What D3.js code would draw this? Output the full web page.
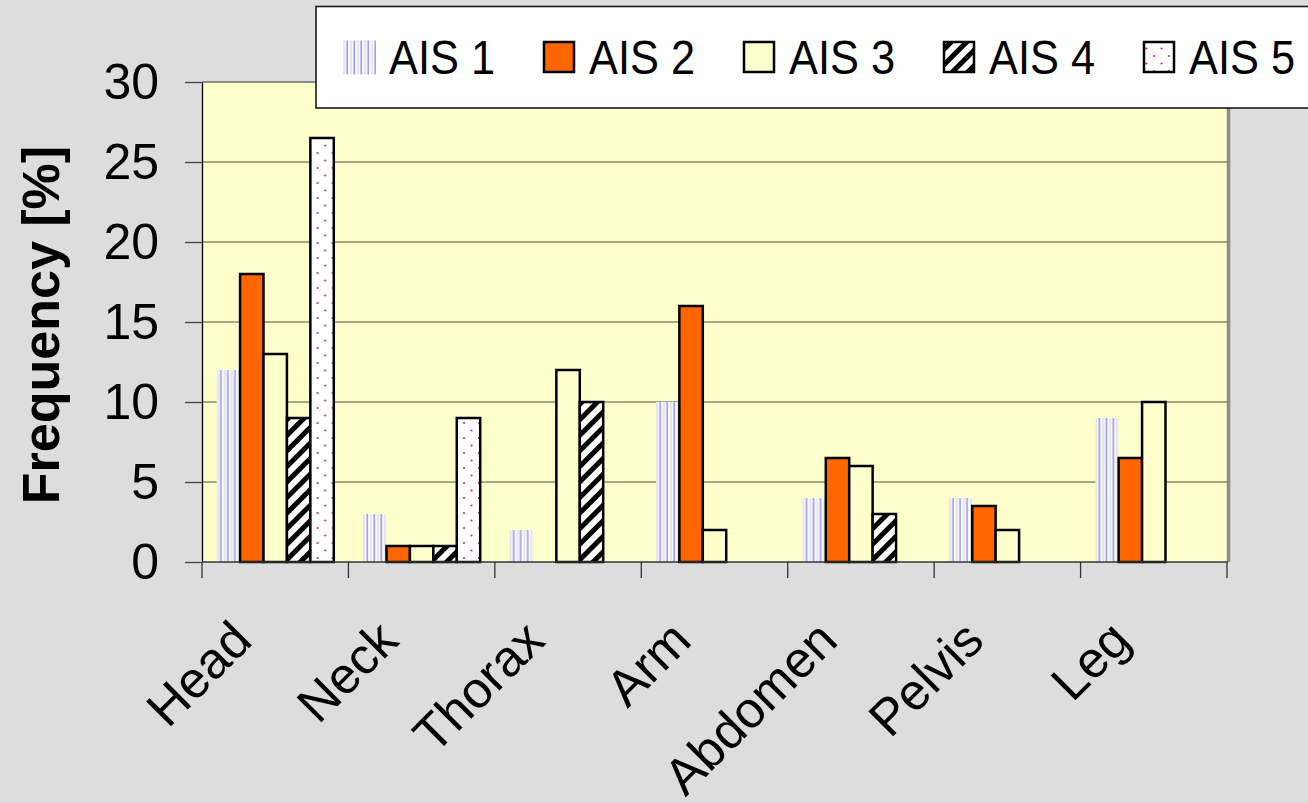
<!DOCTYPE html>
<html>
<head>
<meta charset="utf-8">
<script src="https://cdn.jsdelivr.net/npm/d3@7"></script>
<style>
  html, body { margin: 0; padding: 0; background: #dddddd; }
  svg { display: block; }
  text { font-family: "Liberation Sans", Arial, Helvetica, sans-serif; }
</style>
</head>
<body>
<svg id="chart" width="1308" height="803"></svg>
<script>
// Injury frequency by body region and AIS severity level
const categories = ["Head", "Neck", "Thorax", "Arm", "Abdomen", "Pelvis", "Leg"];
const seriesNames = ["AIS 1", "AIS 2", "AIS 3", "AIS 4", "AIS 5"];
const ais1 = [12, 3, 2, 10, 4, 4, 9];
const ais2 = [18, 1, 0, 16, 6.5, 3.5, 6.5];
const ais3 = [13, 1, 12, 2, 6, 2, 10];
const ais4 = [9, 1, 10, 0, 3, 0, 0];
const ais5 = [26.5, 9, 0, 0, 0, 0, 0];
const yTicks = [0, 5, 10, 15, 20, 25, 30];
const yTitle = "Frequency [%]";

const seriesValues = [ais1, ais2, ais3, ais4, ais5];

const svg = d3.select("#chart");
const plot = { left: 202, top: 82, width: 1025, height: 480 };

// fills for each series
const defs = svg.append("defs");

const pStripe = defs.append("pattern").attr("id", "fill-ais1")
  .attr("patternUnits", "userSpaceOnUse").attr("width", 7).attr("height", 7);
pStripe.append("rect").attr("width", 7).attr("height", 7).attr("fill", "#ffffff");
pStripe.append("rect").attr("x", 0).attr("width", 2.2).attr("height", 7).attr("fill", "#e6e6e6");
pStripe.append("rect").attr("x", 3.4).attr("width", 1.7).attr("height", 7).attr("fill", "#9c9cff");

const pHatch = defs.append("pattern").attr("id", "fill-ais4")
  .attr("patternUnits", "userSpaceOnUse").attr("width", 11).attr("height", 11)
  .attr("patternTransform", "rotate(45)");
pHatch.append("rect").attr("width", 11).attr("height", 11).attr("fill", "#ffffff");
pHatch.append("rect").attr("width", 5).attr("height", 11).attr("fill", "#000000");

const pDots = defs.append("pattern").attr("id", "fill-ais5")
  .attr("patternUnits", "userSpaceOnUse").attr("width", 15).attr("height", 15);
pDots.append("rect").attr("width", 15).attr("height", 15).attr("fill", "#ffffff");
pDots.append("circle").attr("cx", 3.5).attr("cy", 3.5).attr("r", 1.1).attr("fill", "#993399");
pDots.append("circle").attr("cx", 11).attr("cy", 11).attr("r", 1.1).attr("fill", "#993399");

const fills = ["url(#fill-ais1)", "#ff6600", "#ffffcc", "url(#fill-ais4)", "url(#fill-ais5)"];
const strokes = ["none", "#000", "#000", "#000", "#000"];

// scales
const x = d3.scaleBand().domain(categories).range([0, plot.width])
  .paddingInner(0.2).paddingOuter(0.1);
const xs = d3.scaleBand().domain(seriesNames).range([0, x.bandwidth()]);
const y = d3.scaleLinear().domain([0, 30]).range([plot.height, 0]);

const g = svg.append("g").attr("transform", `translate(${plot.left},${plot.top})`);

// plot background
g.append("rect").attr("width", plot.width).attr("height", plot.height).attr("fill", "#ffffcc");
g.append("line").attr("x1", 0).attr("x2", plot.width).attr("y1", 0).attr("y2", 0)
  .attr("stroke", "#8c8c8c").attr("stroke-width", 2);
g.append("line").attr("x1", plot.width + 1.5).attr("x2", plot.width + 1.5)
  .attr("y1", -1).attr("y2", plot.height)
  .attr("stroke", "#8c8c8c").attr("stroke-width", 3.5);

// horizontal gridlines
g.append("g").selectAll("line").data(yTicks.filter(t => t > 0 && t < 30)).join("line")
  .attr("x1", 0).attr("x2", plot.width)
  .attr("y1", d => y(d)).attr("y2", d => y(d))
  .attr("stroke", "#55553a").attr("stroke-width", 1.2);

// bars
const groups = g.append("g").selectAll("g").data(categories).join("g")
  .attr("transform", d => `translate(${x(d)},0)`);
groups.selectAll("rect")
  .data((c, ci) => seriesNames.map((s, si) => ({ s, si, v: seriesValues[si][ci] })).filter(d => d.v > 0))
  .join("rect")
  .attr("x", d => xs(d.s))
  .attr("y", d => y(d.v))
  .attr("width", xs.bandwidth())
  .attr("height", d => y(0) - y(d.v))
  .attr("fill", d => fills[d.si])
  .attr("stroke", d => strokes[d.si])
  .attr("stroke-width", 2.5);

// y axis
const yAxis = g.append("g")
  .call(d3.axisLeft(y).tickValues(yTicks).tickSize(17).tickPadding(26).tickSizeOuter(0));
yAxis.select(".domain").attr("stroke", "#000").attr("stroke-width", 1.3);
yAxis.selectAll(".tick line").attr("stroke", "#444").attr("stroke-width", 1.3);
yAxis.selectAll(".tick text").attr("font-size", 50).attr("fill", "#000")
  .attr("font-family", "'Liberation Sans', Arial, sans-serif");

// x axis line and category boundary ticks
g.append("line").attr("x1", 0).attr("x2", plot.width + 1)
  .attr("y1", plot.height).attr("y2", plot.height)
  .attr("stroke", "#333").attr("stroke-width", 1.5);
const bounds = d3.range(categories.length + 1).map(i => i * x.step());
g.append("g").selectAll("line").data(bounds).join("line")
  .attr("x1", d => d).attr("x2", d => d)
  .attr("y1", plot.height).attr("y2", plot.height + 16)
  .attr("stroke", "#333").attr("stroke-width", 1.3);

// rotated category labels
g.append("g").selectAll("text").data(categories).join("text")
  .attr("transform", d => `translate(${x(d) + x.bandwidth() / 2 - 21},${plot.height + 81}) rotate(-45)`)
  .attr("text-anchor", "end")
  .attr("font-size", 51)
  .attr("fill", "#000")
  .text(d => d);

// y axis title
svg.append("text")
  .attr("transform", `translate(59,325) rotate(-90)`)
  .attr("text-anchor", "middle")
  .attr("font-size", 52)
  .attr("font-weight", "bold")
  .attr("fill", "#000")
  .text(yTitle);

// legend
const legend = svg.append("g");
legend.append("rect").attr("x", 316).attr("y", 6.5).attr("width", 1100).attr("height", 101.5)
  .attr("fill", "#ffffff").attr("stroke", "#1a1a1a").attr("stroke-width", 1.6);
const items = legend.selectAll("g.item").data(seriesNames).join("g").attr("class", "item")
  .attr("transform", (d, i) => `translate(${343 + i * 200},0)`);
items.append("rect")
  .attr("x", (d, i) => i === 0 ? 0 : 1).attr("y", (d, i) => i === 0 ? 40.5 : 42)
  .attr("width", (d, i) => i === 0 ? 33 : 30).attr("height", (d, i) => i === 0 ? 34 : 30)
  .attr("fill", (d, i) => fills[i])
  .attr("stroke", (d, i) => strokes[i]).attr("stroke-width", 2.5);
items.append("text").attr("x", 46).attr("y", 74)
  .attr("font-size", 48).attr("fill", "#000")
  .attr("textLength", 106).attr("lengthAdjust", "spacingAndGlyphs")
  .text(d => d);
</script>
</body>
</html>
